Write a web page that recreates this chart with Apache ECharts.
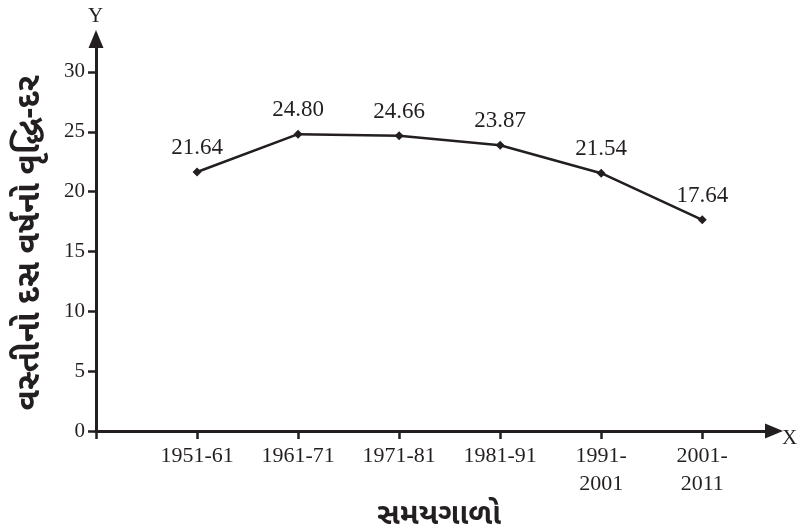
<!DOCTYPE html>
<html>
<head>
<meta charset="utf-8">
<script src="https://cdn.jsdelivr.net/npm/echarts@6/dist/echarts.min.js"></script>
<style>
html,body{margin:0;padding:0;background:#fff;}
#chart{width:803px;height:529px;}
</style>
</head>
<body>
<div id="chart"></div>
<script>
const categories = ['1951-61', '1961-71', '1971-81', '1981-91', '1991-\n2001', '2001-\n2011'];
const growthRates = [21.64, 24.80, 24.66, 23.87, 21.54, 17.64];
const yTickValues = [0, 5, 10, 15, 20, 25, 30];
const xTickValues = [0, 1, 2, 3, 4, 5, 6];
const yAxisTitle = 'વસ્તીનો દસ વર્ષનો વૃદ્ધિ-દર';
const xAxisTitle = 'સમયગાળો';

const serif = "'Liberation Serif', 'DejaVu Serif', serif";
const guj = "'Noto Sans Gujarati', 'Noto Sans', 'DejaVu Sans', sans-serif";
const ink = '#231f20';

const chart = echarts.init(document.getElementById('chart'));
const seriesData = growthRates.map((v, i) => [i + 1, v]);

chart.setOption({
  animation: false,
  backgroundColor: '#fff',
  grid: { left: 96, right: 29, top: 39, bottom: 98, containLabel: false, outerBoundsMode: 'none' },
  xAxis: {
    type: 'value',
    min: 0,
    max: 6.71,
    splitLine: { show: false },
    axisLine: {
      show: true,
      lineStyle: { color: ink, width: 3 },
      symbol: ['none', 'triangle'],
      symbolSize: [15, 18]
    },
    axisTick: {
      show: true,
      customValues: xTickValues,
      length: 8,
      lineStyle: { color: ink, width: 2.5 }
    },
    axisLabel: {
      customValues: xTickValues.slice(1),
      formatter: v => categories[Math.round(v) - 1] || '',
      fontFamily: serif,
      fontSize: 22,
      lineHeight: 28,
      color: ink,
      margin: 11
    },
    name: xAxisTitle,
    nameLocation: 'middle',
    nameGap: 58,
    nameTextStyle: { fontFamily: guj, fontSize: 30, fontWeight: 'bold', color: ink, padding: [0, 0, 0, 8] }
  },
  yAxis: {
    type: 'value',
    min: 0,
    max: 32.75,
    splitLine: { show: false },
    axisLine: {
      show: true,
      lineStyle: { color: ink, width: 3 },
      symbol: ['none', 'triangle'],
      symbolSize: [15, 18]
    },
    axisTick: {
      show: true,
      customValues: yTickValues,
      length: 8,
      lineStyle: { color: ink, width: 2.5 }
    },
    axisLabel: {
      customValues: yTickValues,
      fontFamily: serif,
      fontSize: 21,
      color: ink,
      margin: 11
    },
    name: yAxisTitle,
    nameLocation: 'middle',
    nameRotate: 90,
    nameGap: 47,
    nameTextStyle: { fontFamily: guj, fontSize: 33, fontWeight: 'bold', color: ink, padding: [0, 16, 0, 0] }
  },
  graphic: [
    { type: 'text', left: 88, top: 6, style: { text: 'Y', font: "21px 'Liberation Serif', serif", fill: ink } },
    { type: 'text', left: 782, top: 428, style: { text: 'X', font: "21px 'Liberation Serif', serif", fill: ink } }
  ],
  series: [{
    type: 'line',
    data: seriesData,
    symbol: 'diamond',
    symbolSize: 9,
    lineStyle: { color: ink, width: 2.5 },
    itemStyle: { color: ink },
    label: {
      show: true,
      position: 'top',
      distance: 8,
      fontFamily: serif,
      fontSize: 23,
      color: ink,
      formatter: p => p.value[1].toFixed(2)
    }
  }]
});
</script>
</body>
</html>
